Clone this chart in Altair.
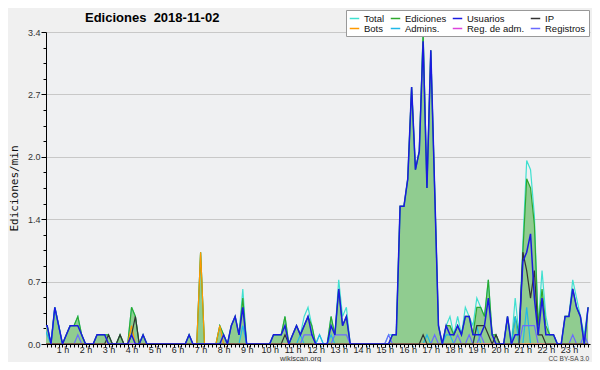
import altair as alt
import pandas as pd

# 10-minute bins, value = edits per minute
total = [
    0.2, 0.2, 0.2, 0, 0.4, 0.2, 0, 0.1, 0.2, 0.2, 0.3, 0.1,
    0, 0, 0, 0.1, 0.1, 0.1, 0.1, 0, 0, 0.1, 0, 0,
    0.4, 0.3, 0, 0.1, 0, 0, 0, 0, 0, 0, 0, 0,
    0, 0, 0, 0.1, 0, 0, 1.0, 0, 0, 0, 0, 0.2,
    0.1, 0, 0.2, 0.3, 0.1, 0.6, 0, 0, 0, 0, 0, 0,
    0, 0.1, 0.1, 0.1, 0.3, 0, 0.1, 0.2, 0.1, 0.3, 0.4, 0.2,
    0, 0.1, 0, 0, 0.3, 0.1, 0.7, 0.3, 0.4, 0, 0, 0,
    0, 0, 0, 0, 0, 0, 0, 0.1, 0.1, 0.1, 1.5, 1.5,
    1.8, 2.8, 1.9, 2.1, 3.4, 1.7, 3.2, 1.7, 0.2, 0, 0.2, 0.3,
    0.1, 0.3, 0.1, 0.4, 0.3, 0.2, 0.5, 0.4, 0.3, 0.7, 0.1, 0.1,
    0, 0, 0.3, 0, 0.5, 0.1, 1.1, 2.0, 1.9, 1.4, 0.2, 0.8,
    0.3, 0.1, 0.1, 0, 0, 0.3, 0.3, 0.7, 0.5, 0.3, 0.1, 0.4,
]
ediciones = [
    0.2, 0.2, 0.2, 0, 0.4, 0.2, 0, 0.1, 0.2, 0.2, 0.3, 0.1,
    0, 0, 0, 0.1, 0.1, 0.1, 0.1, 0, 0, 0.1, 0, 0,
    0.4, 0.3, 0, 0.1, 0, 0, 0, 0, 0, 0, 0, 0,
    0, 0, 0, 0.1, 0, 0, 1.0, 0, 0, 0, 0, 0.2,
    0.1, 0, 0.2, 0.3, 0.1, 0.5, 0, 0, 0, 0, 0, 0,
    0, 0.1, 0.1, 0.1, 0.3, 0, 0.1, 0.2, 0.1, 0.2, 0.3, 0.2,
    0, 0, 0, 0, 0.3, 0.1, 0.6, 0.2, 0.3, 0, 0, 0,
    0, 0, 0, 0, 0, 0, 0, 0, 0.1, 0.1, 1.5, 1.5,
    1.8, 2.8, 1.9, 2.1, 3.4, 1.7, 3.2, 1.7, 0.2, 0, 0.2, 0.2,
    0.1, 0.2, 0.1, 0.3, 0.3, 0.1, 0.4, 0.4, 0.3, 0.7, 0.1, 0.1,
    0, 0, 0.3, 0, 0.3, 0.1, 1.0, 1.8, 1.7, 1.3, 0.2, 0.6,
    0.2, 0.1, 0.1, 0, 0, 0.3, 0.3, 0.6, 0.4, 0.3, 0, 0.4,
]
usuarios = [
    0.2, 0.2, 0.2, 0, 0.4, 0.2, 0, 0.1, 0.2, 0.2, 0.2, 0.1,
    0, 0, 0, 0.1, 0.1, 0.1, 0, 0, 0, 0, 0, 0,
    0.1, 0, 0, 0.1, 0, 0, 0, 0, 0, 0, 0, 0,
    0, 0, 0, 0.1, 0, 0, 0, 0, 0, 0, 0, 0,
    0.1, 0, 0.2, 0.3, 0.1, 0.4, 0, 0, 0, 0, 0, 0,
    0, 0.1, 0.1, 0.1, 0.2, 0, 0.1, 0.2, 0.1, 0.2, 0.3, 0.1,
    0, 0, 0, 0, 0.2, 0.1, 0.6, 0.2, 0.3, 0, 0, 0,
    0, 0, 0, 0, 0, 0, 0, 0, 0.1, 0.1, 1.5, 1.5,
    1.8, 2.8, 1.9, 2.1, 3.3, 1.7, 3.2, 1.7, 0.2, 0, 0.2, 0.1,
    0.1, 0.2, 0.1, 0.3, 0.3, 0.1, 0.1, 0.1, 0.2, 0.5, 0.1, 0,
    0, 0, 0.3, 0, 0.1, 0.1, 0.9, 1.0, 1.2, 0.5, 0.1, 0.5,
    0.1, 0.1, 0.1, 0, 0, 0.3, 0.3, 0.6, 0.4, 0.3, 0, 0.4,
]
ip = [
    0, 0, 0, 0, 0, 0, 0, 0, 0, 0, 0, 0,
    0, 0, 0, 0, 0, 0, 0.1, 0, 0, 0.1, 0, 0,
    0.1, 0.3, 0, 0, 0, 0, 0, 0, 0, 0, 0, 0,
    0, 0, 0, 0, 0, 0, 0, 0, 0, 0, 0, 0,
    0, 0, 0, 0, 0, 0, 0, 0, 0, 0, 0, 0,
    0, 0, 0, 0, 0.1, 0, 0, 0, 0, 0, 0, 0,
    0, 0, 0, 0, 0, 0, 0, 0, 0, 0, 0, 0,
    0, 0, 0, 0, 0, 0, 0, 0, 0, 0, 0, 0,
    0, 0, 0, 0, 0.1, 0, 0, 0, 0, 0, 0, 0,
    0, 0, 0, 0, 0, 0, 0.2, 0.2, 0.2, 0.1, 0, 0.1,
    0, 0, 0, 0, 0, 0, 1.0, 0.8, 0.5, 0.8, 0.1, 0.1,
    0, 0, 0, 0, 0, 0, 0, 0, 0, 0, 0, 0,
]
bots = [
    0, 0, 0, 0, 0, 0, 0, 0, 0, 0, 0, 0,
    0, 0, 0, 0, 0, 0, 0, 0, 0, 0, 0, 0,
    0.2, 0, 0, 0, 0, 0, 0, 0, 0, 0, 0, 0,
    0, 0, 0, 0, 0, 0, 1.0, 0, 0, 0, 0, 0.2,
    0, 0, 0, 0, 0, 0, 0, 0, 0, 0, 0, 0,
    0, 0, 0, 0, 0, 0, 0, 0, 0, 0, 0, 0,
    0, 0, 0, 0, 0, 0, 0, 0, 0, 0, 0, 0,
    0, 0, 0, 0, 0, 0, 0, 0, 0, 0, 0, 0,
    0, 0, 0, 0, 0, 0, 0, 0, 0, 0, 0, 0,
    0, 0, 0, 0, 0, 0, 0, 0, 0, 0, 0, 0,
    0, 0, 0, 0, 0, 0, 0, 0, 0, 0, 0, 0,
    0, 0, 0, 0, 0, 0, 0, 0, 0, 0, 0, 0,
]
admins = [
    0.2, 0.2, 0.1, 0, 0.4, 0.2, 0, 0, 0, 0, 0, 0,
    0, 0, 0, 0, 0, 0, 0, 0, 0, 0, 0, 0,
    0, 0, 0, 0, 0, 0, 0, 0, 0, 0, 0, 0,
    0, 0, 0, 0, 0, 0, 0, 0, 0, 0, 0, 0,
    0, 0, 0, 0, 0, 0.2, 0, 0, 0, 0, 0, 0,
    0, 0, 0, 0, 0, 0, 0, 0, 0.1, 0, 0, 0,
    0, 0.1, 0, 0, 0.1, 0, 0, 0, 0, 0, 0, 0,
    0, 0, 0, 0, 0, 0, 0, 0, 0, 0, 0, 0,
    0, 0, 0, 0, 0, 0.1, 0, 0, 0, 0, 0.1, 0.1,
    0, 0, 0, 0, 0, 0, 0.2, 0, 0, 0, 0, 0,
    0, 0, 0, 0, 0.3, 0, 0, 0.4, 0, 0, 0, 0,
    0, 0, 0, 0, 0, 0, 0, 0, 0, 0, 0, 0,
]
reg_adm = [
    0, 0, 0, 0, 0, 0, 0, 0, 0, 0, 0, 0,
    0, 0, 0, 0, 0, 0, 0, 0, 0, 0, 0, 0,
    0, 0, 0, 0, 0, 0, 0, 0, 0, 0, 0, 0,
    0, 0, 0, 0, 0, 0, 0, 0, 0, 0, 0, 0,
    0, 0, 0, 0, 0, 0, 0, 0, 0, 0, 0, 0,
    0, 0, 0, 0, 0, 0, 0, 0, 0, 0, 0, 0,
    0, 0, 0, 0, 0, 0, 0, 0, 0, 0, 0, 0,
    0, 0, 0, 0, 0, 0, 0, 0, 0, 0, 0, 0,
    0, 0, 0, 0, 0, 0, 0, 0, 0, 0, 0, 0,
    0, 0, 0, 0, 0, 0, 0, 0, 0, 0, 0, 0,
    0, 0, 0, 0, 0, 0, 0, 0, 0, 0, 0, 0,
    0, 0, 0, 0, 0, 0, 0, 0, 0, 0, 0, 0,
]
registros = [
    0, 0, 0, 0, 0, 0, 0, 0, 0, 0, 0.1, 0,
    0, 0, 0, 0, 0, 0, 0, 0, 0, 0, 0, 0,
    0, 0, 0, 0, 0, 0, 0, 0, 0, 0, 0, 0,
    0, 0, 0, 0, 0, 0, 0, 0, 0, 0, 0, 0,
    0, 0, 0, 0, 0, 0, 0, 0, 0, 0, 0, 0,
    0, 0, 0, 0, 0, 0, 0, 0, 0, 0.1, 0.1, 0.1,
    0, 0, 0, 0, 0, 0.1, 0.1, 0.1, 0.1, 0, 0, 0,
    0, 0, 0, 0, 0, 0, 0, 0.1, 0, 0, 0, 0,
    0, 0, 0, 0, 0, 0, 0, 0.1, 0, 0, 0, 0,
    0, 0.1, 0, 0, 0.1, 0, 0, 0.1, 0, 0, 0, 0,
    0, 0, 0, 0, 0, 0, 0.2, 0.2, 0.2, 0.2, 0, 0,
    0, 0, 0, 0, 0, 0, 0, 0.1, 0, 0, 0.1, 0,
]

# legend order (Vega fills legend columns top-to-bottom)
names = ["Total", "Bots", "Ediciones", "Admins.", "Usuarios", "Reg. de adm.", "IP", "Registros"]
colors = ["#40e0d0", "#ff9900", "#2ea82e", "#20b8e8", "#1a1ae0", "#dd44dd", "#333333", "#6a6aff"]
series = {
    "Total": total, "Ediciones": ediciones, "Usuarios": usuarios, "IP": ip,
    "Bots": bots, "Admins.": admins, "Reg. de adm.": reg_adm, "Registros": registros,
}
draw_order = ["Total", "Ediciones", "Admins.", "Registros", "Reg. de adm.", "Bots", "IP", "Usuarios"]
widths = {"Usuarios": 1.5}

rows = []
for name in names:
    for i, v in enumerate(series[name]):
        rows.append({"minute": i * 10, "value": v, "serie": name})
df = pd.DataFrame(rows)

major = "abs(datum.value/0.68 - round(datum.value/0.68)) < 0.01"
y_ticks = [round(k * 0.17, 2) for k in range(21)]
x_ticks = list(range(20, 1440, 10))

x = alt.X(
    "minute:Q",
    scale=alt.Scale(domain=[17, 1435], nice=False, zero=False),
    axis=alt.Axis(
        values=x_ticks, labelExpr="datum.value % 60 == 0 ? (datum.value/60) + ' h' : ''",
        labelOverlap=False, labelFlush=False, grid=False, tickSize=3, tickColor="black",
        domainColor="black", labelFont="Liberation Sans", labelFontSize=9, labelColor="#222",
        labelPadding=-1.5, title="wikiscan.org", titleFont="Liberation Sans", titleFontSize=7.5,
        titleFontWeight="normal", titleColor="#333", titleX=254, titleY=14.5, titleBaseline="middle",
    ),
)
y = alt.Y(
    "value:Q",
    scale=alt.Scale(domain=[0, 3.4], nice=False),
    axis=alt.Axis(
        values=y_ticks, labelExpr=f"{major} ? format(datum.value, '.1f') : ''",
        labelOverlap=False, labelFont="Liberation Sans", labelFontSize=9, labelColor="#333",
        labelPadding=1, tickColor="black", domainColor="black",
        tickSize={"condition": {"test": major, "value": 5}, "value": 3},
        gridOpacity={"condition": {"test": major, "value": 1}, "value": 0},
        gridColor="#c8c8c8", title="Ediciones/min", titleFont="DejaVu Sans Mono",
        titleFontSize=11, titleFontWeight="normal", titleColor="#111",
        titleX=-32, titleY=156, titleAngle=-90, titleAlign="center", titleBaseline="middle",
    ),
)
color = alt.Color(
    "serie:N",
    scale=alt.Scale(domain=names, range=colors),
    legend=alt.Legend(
        title=None, orient="none", legendX=300, legendY=-22, columns=4,
        symbolType="stroke", symbolSize=90, symbolStrokeWidth=1.5,
        labelFont="Liberation Sans", labelFontSize=9.5, labelColor="#111",
        labelOffset=4, columnPadding=2, rowPadding=0, padding=3,
        fillColor="#ffffff", strokeColor="#999999",
    ),
)

base = alt.Chart(df)
layers = [
    base.transform_filter(alt.datum.serie == "Ediciones")
    .mark_area(color="#90cc90", clip=True)
    .encode(x=x, y=y)
]
for name in draw_order:
    layers.append(
        base.transform_filter(alt.datum.serie == name)
        .mark_line(clip=True, strokeWidth=widths.get(name, 1.2))
        .encode(x=x, y=y, color=color)
    )

credit = alt.Chart(pd.DataFrame({"t": ["CC BY-SA 3.0"]})).mark_text(
    align="right", baseline="middle", fontSize=6.5, font="Liberation Sans", color="#444"
).encode(x=alt.value(543), y=alt.value(327), text="t:N")

chart = (
    alt.layer(*layers, credit)
    .properties(
        width=544, height=312,
        padding={"left": 38, "top": 24, "right": 2, "bottom": 18},
        autosize=alt.AutoSizeParams(type="none"),
        background="#f0f0f0",
        title=alt.TitleParams(
            "Ediciones\u00a0\u00a02018-11-02", anchor="start", frame="group", dx=39, dy=36,
            font="Liberation Sans", fontSize=13, fontWeight="bold", color="black",
            baseline="alphabetic", offset=11,
        ),
    )
    .configure_view(fill="#eff0f2", stroke=None)
)

chart.save("out.html", embed_options={"renderer": "svg", "actions": False})
